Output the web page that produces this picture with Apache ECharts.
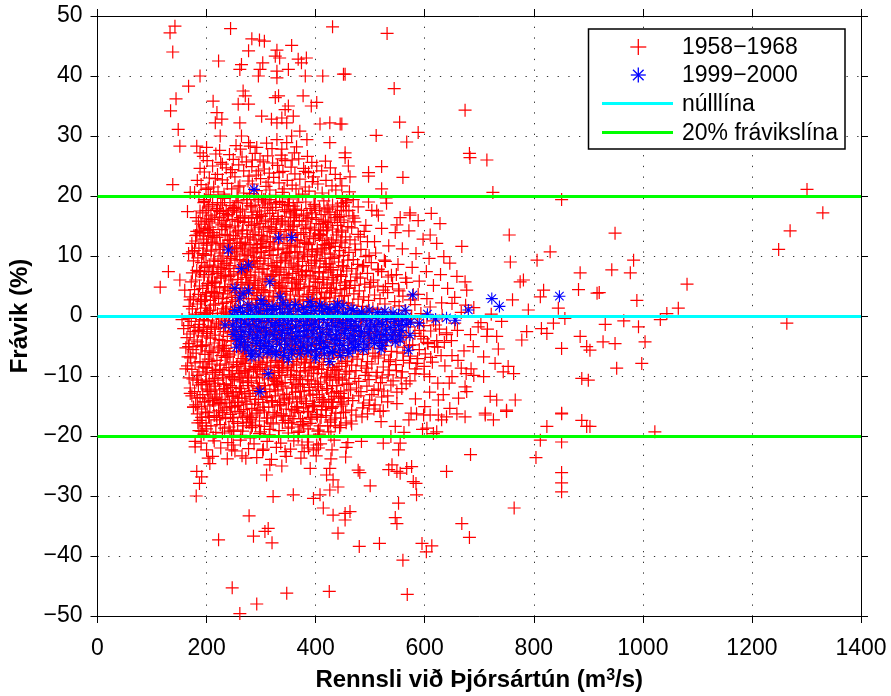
<!DOCTYPE html>
<html><head><meta charset="utf-8">
<script src="https://cdn.jsdelivr.net/npm/echarts@6/dist/echarts.min.js"></script>
<style>html,body{margin:0;padding:0;background:#fff}#c{width:891px;height:696px}</style>
</head><body><div id="c"></div>
<script>
// ---- axes ----
const xRange = [0, 1400];
const yRange = [-50, 50];
const xStep = 200;
const yStep = 10;
const zeroLevel = [0];
const devLevels = [20, -20];

// ---- 1958-1968 (red +) ----
const redTop = [[142,48.3],[133,47.2],[138,44],[244,47.9],[431,48.2],[283,46.2],[297,46],[306,45.8],[277,44.2],[222,42.5],[356,45.1],[329,44.3],[326,43.3],[334,43],[264,41.9],[261,41.1],[303,42.2],[298,41.1],[368,42.8],[383,43],[374,42.2],[350,41.1],[329,40.8],[295,40],[329,39.7],[381,40],[413,40],[451,40.3],[188,40],[167,38.3],[144,36.2],[134,34.2],[148,31.1],[151,28.3],[267,37.5],[271,36.7],[258,35.3],[277,35.3],[212,35.8],[326,36.4],[332,36.7],[350,35],[344,34.4],[377,36.7],[402,35.6],[392,35],[301,33.3],[219,33.9],[228,32.8],[216,32.2],[261,32.2],[319,32.8],[329,32.2],[338,33],[347,32.2],[359,33.3],[408,32],[426,32.2],[445,32],[371,30.8],[356,30],[225,30],[264,30],[277,28.9],[182,28.3],[200,28.1],[188,27.2],[280,28.3],[292,28.1],[329,29.4],[347,28.9],[338,27.8],[384,29.4],[426,28.9],[454,27.2],
[531,47.1],[454,40.3],[544,37.9],[674,34.3],[448,32],[554,32.3],[511,30.1],[588,30.6],[567,29],[682,27.1],[683,26.4],[714,26],[454,26.4],[460,25],[521,24.9],[497,23.9],[497,23.3],[463,23.2],[560,23.1],[448,21.7],[521,21.2],[529,19.7],[725,20.6],[851,19.4],[497,19],[512,17.5],[573,17.2],[457,19.2],[451,18.3],[469,19.4],[138,21.9],[170,20.6]];

const redUpperBand = [[186,19.9],[207,20.2],[233,19.6],[256,20],[279,20.4],[301,19.7],[327,20.1],[352,19.5],[376,20.3],[399,19.8],[424,20],[449,19.6],
[178,20.6],[199,21.1],[221,20.7],[246,21.2],[268,20.5],[292,20.9],[316,21],[339,20.6],[364,21.2],[388,20.8],[412,20.5],[437,21],[462,20.7],
[190,21.9],[213,21.5],[238,22.1],[261,21.7],[284,22],[309,21.6],[333,22.2],[357,21.8],[381,21.5],[404,22],[430,21.7],
[183,22.6],[205,23],[229,22.7],[252,23.2],[276,22.5],[299,22.9],[323,23.1],[348,22.6],[371,22.8],[396,23.2],[419,22.6],[445,22.9],
[196,24],[220,23.6],[244,23.9],[268,24.2],[291,23.5],[315,23.8],[340,24.1],[362,23.7],[387,23.9],[411,24.2],[436,23.6],
[188,24.6],[211,25],[236,24.7],[259,25.2],[283,24.9],[306,24.5],[330,25.1],[355,24.8],[378,24.6],[402,25],[427,24.7],
[201,25.9],[226,25.6],[249,26.1],[273,25.7],[298,26],[321,25.5],[344,25.9],[369,26.2],[393,25.6],[418,25.8],
[194,26.6],[217,27],[242,26.9],[265,26.5],[289,27.1],[312,26.7],[337,26.8],[361,27.2],[385,26.6],
[232,20.3],[258,21.5],[287,20.1],[313,22.3],[342,21.2],[369,20],[394,22.4],[216,22.9],[247,24.4],[278,23.3],[304,25.7],[333,23.9],[357,26],[381,24.1],[224,27.6],[254,28.4],[284,26],[310,28.8],[338,26.2],[365,28.2],[203,21.3],[229,25.3],[262,27.8],[295,24.2],[320,27.9]];

const redCorePos = [[196,19.1],[211,18.6],[229,18.9],[243,18.4],[258,19.2],[274,18.8],[289,18.5],[303,19],[318,18.7],[334,19.1],[349,18.4],[366,18.9],[382,19],[397,18.6],[415,19.2],[431,18.5],[447,18.8],
[188,17.5],[204,18.3],[220,17.9],[236,17.6],[251,18.1],[266,17.8],[282,18.2],[297,17.5],[312,18],[327,18.1],[343,17.7],[359,18.3],[374,17.6],[390,17.9],[407,18],[423,17.8],[440,18.2],[456,17.5],
[193,17.2],[208,16.8],[224,17.4],[240,16.9],[255,17.3],[270,16.7],[285,17.3],[300,16.8],[316,17.1],[331,16.6],[346,17.4],[362,17],[378,16.7],[393,17.2],[410,16.9],[426,17.3],[444,16.6],
[185,15.8],[200,16.2],[215,16.5],[232,15.9],[247,16.1],[262,16.4],[277,15.7],[293,16.3],[308,16],[323,16.2],[339,15.8],[354,16.5],[370,15.9],[386,16.3],[401,16.1],[418,15.7],[435,16.4],[452,16],[470,16.3],
[190,15.3],[206,14.8],[221,15.5],[236,15.2],[252,15],[267,15.6],[282,15.1],[298,15.4],[313,14.9],[328,15.3],[344,15.5],[360,15],[375,15.2],[391,14.8],[406,15.4],[423,15.6],[440,15.1],[459,14.9],
[182,14.1],[197,14.6],[212,13.9],[228,14.4],[243,14.7],[258,14.2],[274,14.3],[289,14],[304,14.5],[319,14.7],[335,14.1],[351,14.4],[366,13.9],[382,14.6],[398,14.3],[414,14.2],[431,14.5],[448,14],[466,14.7],[489,14.1],
[188,13.8],[203,13.3],[219,13.1],[234,13.6],[249,13.4],[265,13.7],[280,13],[296,13.5],[311,13.2],[326,13.8],[342,13.1],[357,13.4],[373,13.6],[389,13.3],[405,13.7],[421,13],[438,13.5],[455,13.2],[478,13.6],
[180,12.5],[195,12.8],[210,12.3],[225,12.1],[241,12.6],[256,12.9],[271,12.2],[287,12.7],[302,12.5],[317,12.4],[333,12.8],[348,12.1],[364,12.7],[380,12.3],[396,12.9],[412,12.6],[429,12.2],[446,12.5],[463,12.7],[495,12.4],
[186,11.3],[201,11.8],[217,12],[232,11.5],[247,11.2],[263,11.7],[278,11.9],[293,11.4],[309,11.6],[324,12],[340,11.3],[355,11.7],[371,11.5],[387,11.9],[403,11.2],[419,11.8],[436,11.6],[454,11.4],[472,12],
[178,10.9],[193,10.4],[208,10.8],[223,11.1],[239,10.5],[254,10.7],[269,10.3],[285,11],[300,10.6],[315,10.9],[331,11.1],[346,10.4],[362,10.7],[378,10.5],[394,10.8],[410,11],[427,10.3],[444,10.9],[461,10.6],[483,11.1],[510,10.5],
[184,9.7],[199,10.2],[215,9.5],[230,10],[245,9.9],[261,9.4],[276,10.1],[291,9.8],[307,9.6],[322,10.2],[338,9.7],[353,10],[369,9.5],[385,9.9],[401,10.2],[417,9.6],[434,9.8],[451,10.1],[469,9.4],[492,9.9],
[176,9.2],[191,8.9],[206,8.5],[221,9.1],[237,8.8],[252,9.3],[267,8.6],[283,9],[298,9.2],[313,8.7],[329,8.9],[344,9.3],[360,8.5],[376,9.1],[392,8.8],[408,9.2],[425,8.7],[442,9],[459,9.3],[477,8.6],[502,8.9],[528,9.1],
[182,7.6],[197,8.1],[213,8.3],[228,7.8],[243,8.4],[259,8],[274,7.7],[289,8.2],[305,7.9],[320,8.4],[336,7.8],[351,8.1],[367,8.3],[383,7.6],[399,8],[415,8.2],[432,7.7],[449,8.4],[466,7.9],[486,8.2],[515,7.8],
[174,7.2],[189,7.5],[204,6.9],[219,7.1],[235,6.7],[250,7.4],[265,7.2],[281,6.8],[296,7.3],[311,7],[327,7.5],[342,6.9],[358,7.1],[374,7.4],[390,6.7],[406,7.2],[423,7.3],[440,6.8],[457,7.5],[474,7],[495,7.1],[521,7.4],[548,6.9],
[180,6],[195,6.5],[211,5.8],[226,6.3],[241,6.6],[257,6.1],[272,6.4],[287,5.9],[303,6.2],[318,6.6],[334,6],[349,6.3],[365,5.8],[381,6.5],[397,6.2],[413,6.1],[430,6.4],[447,6.6],[464,5.9],[482,6.3],[506,6],[533,6.5],
[172,5.7],[187,5],[202,5.4],[217,5.5],[233,4.9],[248,5.3],[263,5.6],[279,5.2],[294,5.1],[309,5.7],[325,5.4],[340,5],[356,5.5],[372,5.3],[388,4.9],[404,5.6],[421,5.2],[438,5.5],[455,5.7],[472,5.1],[490,5.3],[514,5],[541,5.4],[567,5.6],
[178,4.4],[193,4.6],[209,4.1],[224,4.8],[239,4.3],[255,4.7],[270,4],[285,4.5],[301,4.4],[316,4.2],[332,4.8],[347,4.1],[363,4.5],[379,4.7],[395,4.3],[411,4],[428,4.6],[445,4.4],[462,4.7],[480,4.2],[499,4.8],[524,4.3],[552,4.5],
[170,3.2],[185,3.6],[200,3.9],[215,3.3],[231,3.7],[246,3.1],[261,3.5],[277,3.8],[292,3.4],[307,3.9],[323,3.2],[338,3.7],[354,3.5],[370,3.3],[386,3.6],[402,3.9],[419,3.1],[436,3.8],[453,3.4],[470,3.7],[488,3.2],[508,3.5],[532,3.9],[560,3.3],[588,3.6],
[176,2.8],[191,2.4],[207,2.6],[222,3],[237,2.3],[253,2.7],[268,2.9],[283,2.2],[299,2.8],[314,2.5],[330,3],[345,2.6],[361,2.3],[377,2.7],[393,2.4],[409,2.9],[426,3],[443,2.5],[460,2.2],[478,2.8],[497,2.6],[518,2.9],[545,2.4],[574,2.7],
[168,1.6],[183,2],[198,1.3],[213,1.8],[229,2.1],[244,1.5],[259,1.7],[275,1.4],[290,1.9],[305,2.1],[321,1.6],[336,1.8],[352,1.3],[368,2],[384,1.7],[400,1.5],[417,1.9],[434,1.4],[451,2.1],[468,1.8],[486,1.6],[505,1.3],[527,2],[553,1.7],[582,1.9],[610,1.5],
[174,1.2],[189,0.6],[205,0.9],[220,0.4],[235,0.8],[251,1.1],[266,0.7],[281,1],[297,0.5],[312,0.9],[328,1.2],[343,0.6],[359,0.8],[375,1.1],[391,0.4],[407,0.9],[424,0.7],[441,1],[458,1.2],[476,0.5],[494,0.8],[514,1.1],[538,0.6],[565,0.9],[593,0.4]];

const redCoreNeg = [[168,-0.4],[181,0.1],[196,0.3],[211,-0.2],[227,-0.5],[242,0.2],[257,-0.1],[273,0],[288,-0.3],[303,0.3],[319,-0.4],[334,0.1],[350,-0.2],[366,0.2],[382,-0.5],[398,-0.1],[415,0.1],[432,-0.4],[449,0],[466,0.3],[484,-0.3],[503,-0.1],[523,0.2],[548,-0.5],[576,0],[604,-0.2],[632,0.1],
[172,-0.9],[187,-1.4],[203,-0.7],[218,-1],[233,-0.8],[249,-1.2],[264,-0.6],[279,-1.3],[295,-0.9],[310,-1.1],[326,-0.7],[341,-1.4],[357,-0.8],[373,-1],[389,-1.2],[405,-0.6],[422,-1.1],[439,-0.7],[456,-1.3],[474,-0.9],[492,-0.8],[511,-1.4],[532,-1],[558,-0.7],[587,-1.1],[616,-0.8],
[166,-1.6],[179,-1.9],[194,-2.2],[209,-1.7],[225,-2],[240,-1.5],[255,-2.3],[271,-1.8],[286,-1.6],[301,-2.1],[317,-1.9],[332,-1.7],[348,-2.3],[364,-1.5],[380,-2],[396,-1.8],[413,-2.2],[430,-1.6],[447,-1.9],[464,-2.1],[482,-1.5],[501,-2],[521,-1.7],[544,-2.3],[570,-1.8],[598,-1.6],[627,-2.2],
[170,-3],[185,-2.4],[201,-2.9],[216,-3.2],[231,-2.6],[247,-2.8],[262,-2.5],[277,-3.1],[293,-2.7],[308,-2.4],[324,-3],[339,-2.8],[355,-3.2],[371,-2.6],[387,-2.5],[403,-2.9],[420,-2.7],[437,-3.1],[454,-2.4],[472,-3],[490,-2.8],[509,-2.6],[530,-3.2],[555,-2.7],[582,-2.9],[611,-2.5],[640,-3.1],
[164,-3.6],[177,-4],[192,-3.3],[207,-3.7],[223,-3.9],[238,-3.4],[253,-4.1],[269,-3.5],[284,-3.8],[299,-3.6],[315,-3.3],[330,-4],[346,-3.7],[362,-3.9],[378,-3.4],[394,-3.6],[411,-4.1],[428,-3.5],[445,-3.7],[462,-3.8],[480,-3.3],[499,-4],[519,-3.5],[541,-3.9],[566,-3.6],[593,-3.4],[622,-4.1],
[168,-4.6],[183,-4.3],[199,-4.8],[214,-4.5],[229,-5],[245,-4.2],[260,-4.7],[275,-4.4],[291,-4.9],[306,-4.6],[322,-4.3],[337,-4.7],[353,-4.2],[369,-5],[385,-4.5],[401,-4.8],[418,-4.4],[435,-4.6],[452,-4.9],[470,-4.2],[488,-4.7],[507,-4.5],[528,-5],[551,-4.3],[578,-4.8],[606,-4.6],[636,-4.4],
[162,-5.3],[175,-5.6],[190,-5.1],[205,-5.8],[221,-5.5],[236,-5.4],[251,-5.9],[267,-5.2],[282,-5.7],[297,-5.1],[313,-5.5],[328,-5.8],[344,-5.3],[360,-5.6],[376,-5.2],[392,-5.9],[409,-5.4],[426,-5.1],[443,-5.7],[460,-5.5],[478,-5.8],[497,-5.3],[517,-5.4],[539,-5.9],[563,-5.2],[590,-5.6],[618,-5.1],
[166,-6.8],[181,-6.2],[197,-6.4],[212,-6.1],[227,-6.6],[243,-6.5],[258,-6],[273,-6.7],[289,-6.3],[304,-6.8],[320,-6.2],[335,-6.1],[351,-6.5],[367,-6.4],[383,-6.7],[399,-6],[416,-6.6],[433,-6.3],[450,-6.1],[468,-6.8],[486,-6.4],[505,-6.2],[526,-6.5],[549,-6],[574,-6.7],[601,-6.3],[630,-6.6],
[171,-7],[188,-7.6],[203,-7.2],[219,-7.4],[234,-6.9],[249,-7.7],[265,-7.1],[280,-7.3],[295,-7.5],[311,-7],[326,-7.4],[342,-6.9],[358,-7.6],[374,-7.2],[390,-7.3],[407,-7.7],[424,-7.1],[441,-6.9],[458,-7.5],[476,-7.2],[495,-7.6],[515,-7],[537,-7.3],[561,-7.4],[587,-7.1],[614,-7.7],
[165,-8.3],[179,-7.8],[195,-8.5],[210,-8],[225,-8.2],[241,-8.6],[256,-8.1],[271,-7.9],[287,-8.4],[302,-7.8],[318,-8.3],[333,-8.2],[349,-8.5],[365,-8],[381,-7.8],[397,-8.4],[414,-8.1],[431,-8.6],[448,-7.9],[466,-8.2],[484,-8.3],[503,-8],[524,-8.5],[547,-8.1],[572,-7.8],[599,-8.4],
[173,-8.9],[186,-9.3],[201,-8.7],[217,-9.4],[232,-9],[247,-9.1],[263,-9.5],[278,-8.8],[293,-9.2],[309,-8.9],[324,-9.4],[340,-8.7],[356,-9.1],[372,-9.3],[388,-9],[405,-8.8],[422,-9.5],[439,-8.9],[456,-9.2],[474,-9.1],[493,-8.7],[513,-9.4],[535,-9],[559,-9.3],[584,-8.8],
[168,-10.3],[183,-9.9],[199,-9.7],[214,-10.4],[229,-9.8],[245,-10.1],[260,-9.6],[275,-10],[291,-10.2],[306,-9.7],[322,-10.4],[338,-9.9],[354,-9.8],[370,-10.3],[386,-10],[403,-9.6],[420,-10.1],[437,-10.2],[454,-9.7],[472,-10.4],[491,-9.9],[511,-10],[533,-9.8],[557,-10.3],[582,-9.6],[609,-10.1],
[175,-10.5],[190,-11.1],[205,-10.9],[221,-10.7],[236,-11.3],[251,-10.6],[267,-11],[282,-10.8],[297,-11.2],[313,-10.5],[328,-10.9],[344,-11.1],[360,-10.6],[376,-11.3],[392,-10.8],[409,-11],[426,-10.7],[443,-10.5],[461,-11.2],[479,-10.9],[498,-10.6],[519,-11.1],[542,-10.8],[566,-11.3],
[170,-12],[185,-11.5],[201,-12.2],[216,-11.7],[231,-11.4],[247,-11.9],[262,-12.1],[277,-11.6],[293,-11.8],[308,-12.2],[324,-11.5],[340,-11.7],[356,-12],[372,-11.4],[388,-11.9],[405,-11.8],[422,-12.1],[439,-11.6],[457,-11.4],[475,-12],[494,-11.7],[515,-12.2],[538,-11.5],
[178,-12.6],[193,-13.1],[208,-12.5],[224,-12.3],[239,-12.9],[254,-12.7],[270,-13],[285,-12.4],[300,-12.8],[316,-12.6],[331,-12.3],[347,-13.1],[363,-12.7],[379,-12.5],[395,-13],[412,-12.4],[429,-12.8],[446,-12.9],[464,-12.3],[483,-12.6],[503,-13.1],[525,-12.5],[549,-12.7],
[173,-13.3],[188,-13.6],[203,-13.8],[219,-13.5],[234,-14],[249,-13.2],[265,-13.7],[280,-13.4],[295,-13.9],[311,-13.6],[326,-13.3],[342,-14],[358,-13.5],[374,-13.8],[390,-13.2],[407,-13.6],[424,-13.9],[442,-13.4],[460,-13.7],[479,-13.3],[499,-14],[521,-13.5],
[180,-14.8],[196,-14.3],[211,-14.1],[226,-14.6],[242,-14.5],[257,-14.9],[272,-14.2],[288,-14.7],[303,-14.4],[319,-14.1],[334,-14.8],[350,-14.5],[366,-14.3],[382,-14.6],[398,-14.9],[415,-14.2],[432,-14.4],[450,-14.7],[468,-14.1],[488,-14.5],[509,-14.8],[532,-14.3],
[176,-15.2],[191,-15.5],[206,-15],[222,-15.8],[237,-15.3],[252,-15.1],[268,-15.6],[283,-15.4],[298,-15.7],[314,-15.2],[330,-15],[346,-15.5],[362,-15.8],[378,-15.3],[394,-15.1],[411,-15.6],[429,-15.4],[447,-15],[466,-15.7],[486,-15.3],[507,-15.5],
[183,-16.3],[198,-16],[214,-16.6],[229,-16.1],[244,-16.4],[260,-15.9],[275,-16.7],[291,-16.2],[306,-16],[322,-16.5],[337,-16.3],[353,-16.7],[369,-16.1],[385,-15.9],[402,-16.4],[419,-16.6],[437,-16.2],[455,-16],[474,-16.5],[495,-16.3],[518,-15.9],
[188,-17.4],[204,-16.8],[219,-17.3],[235,-17.1],[250,-17.6],[266,-16.9],[281,-17.2],[297,-17.5],[312,-17],[328,-16.8],[344,-17.4],[360,-17.1],[376,-17.6],[393,-17.2],[410,-16.9],[428,-17.3],[446,-17],[465,-17.5],[485,-16.8],
[192,-17.8],[208,-18.3],[225,-18.1],[241,-18.5],[257,-17.9],[273,-17.7],[290,-18.2],[306,-18.4],[322,-18],[339,-17.8],[356,-18.5],[373,-18.1],[390,-17.9],[408,-18.3],[427,-17.7],[446,-18.2],[466,-18],
[186,-19.1],[200,-18.8],[217,-19.4],[233,-18.7],[249,-19],[266,-19.2],[282,-18.6],[299,-19.3],[316,-18.9],[333,-19.1],[350,-18.7],[368,-19.4],[386,-18.8],[405,-19],[424,-19.3],[444,-18.6],
[195,-19.7],[212,-20.2],[229,-19.5],[246,-20],[263,-19.9],[280,-20.3],[297,-19.6],[315,-19.8],[332,-20.1],[350,-19.5],[368,-20.2],[387,-19.9],[407,-19.7],[428,-20]];

const redCoreFill = [[203,18],[226,18.5],[249,17.9],[281,18.4],[307,18.1],[339,18.6],[362,17.8],[398,18.3],[421,18],
[199,17.6],[231,17.1],[262,17.5],[293,16.9],[321,17.6],[353,17.2],[384,17],[417,17.5],[437,16.9],
[210,16.1],[238,16.7],[270,16.3],[301,16.6],[331,16.2],[365,16.8],[393,16.4],[428,16],
[197,15.7],[228,15.2],[259,15.8],[288,15.3],[319,15.7],[350,15.2],[382,15.8],[414,15.3],[446,15.6],
[206,14.4],[235,14.9],[266,14.3],[296,14.8],[327,14.4],[358,14.9],[390,14.5],[422,14.8],
[194,13.9],[224,13.5],[253,14],[285,13.6],[316,14.1],[346,13.5],[378,13.9],[409,13.6],[441,14],
[214,13.1],[243,12.7],[275,13.2],[305,12.8],[336,13.1],[367,12.6],[399,13],[432,12.7],
[200,12.2],[230,11.8],[261,12.3],[291,11.9],[322,12.3],[353,11.8],[384,12.2],[416,11.9],[448,12.2],
[209,11],[239,11.5],[270,11],[300,11.4],[331,11],[362,11.5],[393,11.1],[425,11.4],
[195,10.1],[225,10.5],[256,10],[287,10.5],[318,10.1],[349,10.6],[380,10.2],[412,10.5],[443,10],
[213,9.2],[244,9.6],[274,9.1],[305,9.6],[336,9.2],[367,9.7],[398,9.3],[430,9.6],
[201,8.3],[232,8.7],[263,8.2],[293,8.7],[324,8.3],[355,8.8],[387,8.4],[419,8.7],[451,8.2],
[210,7.4],[241,7.9],[271,7.4],[302,7.8],[333,7.3],[364,7.8],[395,7.4],[427,7.7],
[196,6.9],[227,6.5],[258,7],[289,6.5],[320,6.9],[351,6.4],[382,6.8],[414,6.5],[446,6.9],
[215,5.6],[245,6],[276,5.5],[307,6],[338,5.6],[369,6.1],[400,5.7],[432,6],
[203,5.1],[234,4.7],[265,5.2],[296,4.7],[327,5.1],[358,4.6],[389,5],[421,4.7],[453,5.1],
[212,3.8],[243,4.2],[273,3.7],[304,4.2],[335,3.8],[366,4.3],[397,3.9],[429,4.2],
[198,3.3],[229,2.9],[260,3.4],[291,2.9],[322,3.3],[353,2.8],[384,3.2],[416,2.9],[448,3.3],
[216,2],[247,2.4],[278,1.9],[309,2.4],[340,2],[371,2.5],[402,2.1],[434,2.4],
[180,0.3],[194,-0.6],[207,1],[222,-1.3],[236,0.5],[185,-2.6],[200,-3.5],[215,-2.2],[230,-4.1],[192,-5],[208,-6],[223,-5.2],[238,-6.8],
[455,-0.6],[470,-1.8],[487,0.6],[500,-2.9],[515,-0.3],[530,-4.1],[546,-1.2],[560,-3.3],[575,-0.5],[590,-2.4],[605,-4.4],[620,-1.5],
[205,-7.6],[236,-8],[267,-7.5],[298,-8.1],[329,-7.7],[360,-8.2],[391,-7.8],[423,-8.1],[455,-7.6],
[193,-8.5],[224,-8.9],[255,-8.4],[286,-8.9],[317,-8.5],[348,-9],[379,-8.6],[411,-8.9],[443,-8.4],
[211,-9.4],[242,-9.8],[272,-9.3],[303,-9.8],[334,-9.4],[365,-9.9],[396,-9.5],[428,-9.8],[462,-9.3],
[199,-10.7],[230,-10.3],[261,-10.8],[292,-10.3],[323,-10.7],[354,-10.2],[385,-10.6],[417,-10.3],[449,-10.7],
[214,-11.2],[244,-11.6],[275,-11.1],[306,-11.6],[337,-11.2],[368,-11.7],[399,-11.3],[431,-11.6],
[202,-12.5],[233,-12.1],[264,-12.6],[295,-12.1],[326,-12.5],[357,-12],[388,-12.4],[420,-12.1],[452,-12.5],
[217,-13],[247,-13.4],[278,-12.9],[309,-13.4],[340,-13],[371,-13.5],[402,-13.1],[434,-13.4],
[197,-14.3],[228,-13.9],[259,-14.4],[290,-13.9],[321,-14.3],[352,-13.8],[383,-14.2],[415,-13.9],[447,-14.3],
[213,-14.8],[243,-15.2],[274,-14.7],[305,-15.2],[336,-14.8],[367,-15.3],[398,-14.9],[430,-15.2],
[201,-16.1],[232,-15.7],[263,-16.2],[294,-15.7],[325,-16.1],[356,-15.6],[387,-16],[419,-15.7],[451,-16.1],
[218,-16.6],[248,-17],[279,-16.5],[310,-17],[341,-16.6],[372,-17.1],[403,-16.7],[435,-17]];

const redScatterFill = [[187,14.3],[341,-7.7],[262,3.9],[419,-15.1],[228,9.2],[305,-2.6],[447,17.6],[199,-11.4],[376,6.8],[284,-18.3],[243,12.1],[398,-4.9],[322,1.2],[215,-13.7],[361,15.8],[270,-9.1],[433,5.5],[191,-16.9],[352,10.7],[296,-0.8],[254,18.9],[411,-6.3],[329,8.1],[206,-12.6],[387,2.7],[278,-17.8],[238,13.4],[452,-3.7],[315,11.3],[223,-14.4],[369,7.4],[290,-8.6],[181,16.4],[404,-19.2],[334,4.6],[248,-10.3],[426,0.5],[267,-5.8],[196,19.4],[357,-1.9],
[192,-11.4],[346,6.8],[267,-18.3],[424,12.1],[233,-4.9],[310,1.2],[452,-13.7],[204,15.8],[381,-9.1],[289,5.5],[248,-16.9],[403,10.7],[327,-0.8],[220,18.9],[366,-6.3],[275,8.1],[438,-12.6],[196,2.7],[357,-17.8],[301,13.4],[259,-3.7],[416,11.3],[334,-14.4],[211,7.4],[392,-8.6],[283,16.4],[243,-19.2],[457,4.6],[320,-10.3],[228,0.5],[374,-5.8],[295,19.4],[186,-1.9],[409,14.3],[339,-7.7],[253,3.9],[431,-15.1],[272,9.2],[201,-2.6],[362,17.6],
[183,-13.7],[337,15.8],[258,-9.1],[415,5.5],[224,-16.9],[301,10.7],[443,-0.8],[195,18.9],[372,-6.3],[280,8.1],[239,-12.6],[394,2.7],[318,-17.8],[211,13.4],[357,-3.7],[266,11.3],[429,-14.4],[187,7.4],[348,-8.6],[292,16.4],[250,-19.2],[407,4.6],[325,-10.3],[202,0.5],[383,-5.8],[274,19.4],[234,-1.9],[448,14.3],[311,-7.7],[219,3.9],[365,-15.1],[286,9.2],[177,-2.6],[400,17.6],[330,-11.4],[244,6.8],[422,-18.3],[263,12.1],[192,-4.9],[353,1.2],
[196,-0.8],[350,18.9],[271,-6.3],[428,8.1],[237,-12.6],[314,2.7],[456,-17.8],[208,13.4],[385,-3.7],[293,11.3],[252,-14.4],[407,7.4],[331,-8.6],[224,16.4],[370,-19.2],[279,4.6],[442,-10.3],[200,0.5],[361,-5.8],[305,19.4],[263,-1.9],[420,14.3],[338,-7.7],[215,3.9],[396,-15.1],[287,9.2],[247,-2.6],[461,17.6],[324,-11.4],[232,6.8],[378,-18.3],[299,12.1],[190,-4.9],[413,1.2],[343,-13.7],[257,15.8],[435,-9.1],[276,5.5],[205,-16.9],[366,10.7],
[180,13.4],[334,-3.7],[255,11.3],[412,-14.4],[221,7.4],[298,-8.6],[440,16.4],[192,-19.2],[369,4.6],[277,-10.3],[236,0.5],[391,-5.8],[315,19.4],[208,-1.9],[354,14.3],[263,-7.7],[426,3.9],[184,-15.1],[345,9.2],[289,-2.6],[247,17.6],[404,-11.4],[322,6.8],[199,-18.3],[380,12.1],[271,-4.9],[231,1.2],[445,-13.7],[308,15.8],[216,-9.1],[362,5.5],[283,-16.9],[174,10.7],[397,-0.8],[327,18.9],[241,-6.3],[419,8.1],[260,-12.6],[189,2.7],[350,-17.8],
[190,-19.2],[344,4.6],[265,-10.3],[422,0.5],[231,-5.8],[308,19.4],[450,-1.9],[202,14.3],[379,-7.7],[287,3.9],[246,-15.1],[401,9.2],[325,-2.6],[218,17.6],[364,-11.4],[273,6.8],[436,-18.3],[194,12.1],[355,-4.9],[299,1.2],[257,-13.7],[414,15.8],[332,-9.1],[209,5.5],[390,-16.9],[281,10.7],[241,-0.8],[455,18.9],[318,-6.3],[226,8.1],[372,-12.6],[293,2.7],[184,-17.8],[407,13.4],[337,-3.7],[251,11.3],[429,-14.4],[270,7.4],[199,-8.6],[360,16.4]];

const redLowerBand = [[190,-21.2],[214,-20.8],[239,-21.1],[262,-20.7],[287,-21.3],[311,-20.9],[336,-21.2],[360,-20.8],[385,-21],[409,-21.3],[434,-20.7],[459,-21.1],[484,-20.9],
[200,-22.3],[226,-22],[252,-22.5],[277,-22.1],[303,-22.4],[328,-21.9],[354,-22.2],[379,-22.6],[405,-22],[430,-22.3],[456,-21.9],
[211,-23.4],[238,-23.8],[265,-23.3],[292,-23.6],[319,-23.9],[346,-23.4],[373,-23.7],[401,-23.3],[428,-23.8],[455,-23.5]];

const redBottom = [[181,-30],[187,-27.9],[191,-26.8],[182,-25.9],[179,-21.8],[179,-20.9],[203,-23.7],[206,-24.6],[246,-22.3],[249,-21.5],[272,-23.7],[304,-22.2],[316,-24.8],[338,-25],[310,-26.5],[344,-22.6],[375,-21.5],[387,-22],[396,-22.3],[402,-21.5],[390,-25.4],[426,-25.4],[420,-26.5],[432,-27.3],[359,-29.8],[322,-30.1],[396,-30.4],[408,-29.8],[426,-29],[441,-28.5],[414,-32],[432,-33.2],[454,-32.9],[454,-34],[441,-36.2],[278,-33.3],[222,-37.3],[286,-36.7],[307,-35.9],[320,-37.8],[313,-35.4],[247,-45.3],[292,-48],[261,-49.6],[347,-46.2],[425,-45.9],
[750,-15.9],[851,-16.3],[888,-17.4],[897,-18.4],[824,-18.4],[812,-20.7],[851,-21],[804,-23.6],[851,-26.1],[851,-27.8],[851,-29.3],[684,-23.1],[640,-25.9],[764,-32],[668,-34.6],[682,-36.9],[613,-38.3],[603,-39.3],[595,-37.9],[560,-40.7],[568,-46.4],[517,-37.9],[480,-38.4],[552,-31.2],[546,-33.6],[549,-34.6],[500,-28.3],[584,-27.9],[585,-29.8],[478,-25.7],[481,-26.1],[549,-25.9],[555,-26.2],[567,-25.4],[540,-24.8],[534,-25.6],[576,-25.1],[579,-27.6],[463,-32.6],[640,-16.8],[631,-17.3],[625,-16.5],[622,-19.3],[616,-19.6],[711,-16.5],[726,-17.3],[674,-16.8],[659,-16.3],[585,-16.3],[598,-16.5],[610,-16.5],[604,-18.7],[524,-21.2],[555,-21.2],[552,-22.3]];

const redRight = [[478,18.2],[503,17.6],[530,18.8],[555,16.4],[588,15.9],[612,17.1],[468,16.7],[492,15.1],[521,14.6],[546,13.9],[571,14.2],[597,12.8],[622,12.1],[482,13.2],[508,12.4],[534,11.7],[559,11.2],[584,10.4],[608,9.6],[635,9.9],[473,11],[498,10.1],[526,9.3],[551,8.6],[577,8.1],[603,7.4],[629,6.9],[488,8.4],[514,7.7],[539,6.8],[565,6.3],[590,5.8],[616,5.1],[642,4.6],[476,6.5],[501,5.6],[528,4.9],[553,4.2],[579,3.6],[604,2.9],[631,2.2],[655,3.1],
[497,-3.5],[521,-4.4],[546,-3.1],[572,-4.9],[598,-3.8],[624,-5.2],[649,-4.1],[672,-5.8],[509,-6.7],[534,-7.6],[560,-6.2],[586,-7.9],[611,-6.9],[637,-8.3],[661,-7.4],[685,-8.8],[496,-9.4],[522,-10.3],[548,-9.1],[573,-10.8],[599,-9.7],[624,-11.2],[650,-10.1],[676,-9.6],[507,-12.4],[532,-13.3],[558,-12.1],[583,-13.8],[609,-12.7],[634,-13.1],[498,-14.9],[524,-15.8],[549,-14.6],[575,-16.2],[600,-15.1],[520,-17.6],[546,-18.4],[571,-17.3],[596,-18.9],[538,-20.1],[562,-19.4],
[650,2.1],[667,0.6],[690,1.4],[703,-1.1],[722,0.3],[741,-0.9],[660,-2.4],[684,-3.1],[698,-1.8],[655,-1.2],[640,-2.8],[675,1.8],[715,-2.2],[735,-5.5],[650,-6.6],[667,-8.7],[690,-9.9],[645,-11.2],
[755,13.5],[830,10.7],[806,9.3],[757,9],[885,7.2],[775,5.7],[781,6],[882,4.4],[818,4.3],[812,3.2],[761,2.7],[916,3.8],[845,1.3],[790,1],[857,-0.4],[836,-1.2],[814,-2.1],[824,-2.9],[778,-4],[787,-2.6],[885,-3.4],[897,-5.1],[903,-5.7],[851,-5.4],[888,-10.4],[900,-10.7],[851,-16.2],[668,11.6],[646,8.8],[659,6.6],[674,5.7],[677,4.3],[628,15.4],[610,13.5],[573,16.8],[549,15.2],[515,16.8],[472,15.7],[753,-8.4],[729,-7.9],[708,-6.8],[689,-5.1],[714,-3.4],[732,-3.4],[708,-10.1],[744,-9.3],[763,-9.6],[766,-14],[720,-13.4],[732,-14],[674,-11.8],[677,-12.6],[662,-13.7],[625,-14],[646,-15.4],[711,-16.2],[750,-15.7],
[1301,21.1],[1330,17.2],[1270,14.2],[1249,11.1],[1264,-1.2],[949,13.8],[983,9.3],[943,7.7],[977,7.2],[1081,5.3],[920,3.9],[989,2.6],[1065,1.3],[1044,0.4],[1032,-0.6],[965,-0.8],[931,-1.4],[992,-1.8],[927,-4.3],[949,-4.6],[1004,-4.3],[952,-8.7],[998,-7.9],[1022,-19.3],[903,-18.4]];

const redLeft = [[165,17.4],[182,13.5],[173,12.1],[167,10.4],[130,7.4],[151,6],[115,4.8],[160,4.3],[170,2.7],[167,-5.1],[170,-6.8],[170,-12.9],[182,-10.7],[158,-2.1],[162,-8.8],[176,-15.2],[155,-0.6]];

// ---- 1999-2000 (blue *) ----
const blueBand = [[262,1.4],[276,1.8],[291,1.5],[305,1.9],[320,1.6],[334,1.3],[349,1.7],[363,1.9],[378,1.4],[392,1.6],[407,1.8],[421,1.3],[436,1.5],[450,1.7],[465,1.2],
[252,0.9],[266,0.6],[281,1],[295,0.7],[310,0.9],[324,1.1],[339,0.5],[353,0.8],[368,1],[382,0.6],[397,0.9],[411,0.7],[426,1.1],[440,0.8],[455,0.5],[469,0.9],[484,0.7],[498,1],[513,0.6],[527,0.8],[542,0.5],
[248,0.1],[262,-0.2],[277,0.2],[291,-0.1],[306,0],[320,0.3],[335,-0.2],[349,0.1],[364,-0.3],[378,0.2],[393,0],[407,-0.2],[422,0.3],[436,-0.1],[451,0.1],[465,-0.3],[480,0.2],[494,0],[509,-0.2],[523,0.1],[538,-0.1],[552,0.2],[567,-0.2],
[255,-0.7],[269,-1],[284,-0.6],[298,-0.9],[313,-0.7],[327,-1.1],[342,-0.8],[356,-0.5],[371,-0.9],[385,-0.7],[400,-1],[414,-0.6],[429,-0.8],[443,-1.1],[458,-0.7],[472,-0.9],[487,-0.5],[501,-0.8],[516,-1],[530,-0.6],[545,-0.9],[559,-0.7],[574,-1],
[248,-1.5],[262,-1.8],[276,-1.4],[291,-1.7],[305,-1.9],[320,-1.5],[334,-1.6],[349,-1.3],[363,-1.8],[378,-1.6],[392,-1.4],[407,-1.9],[421,-1.5],[436,-1.7],[450,-1.3],[465,-1.6],[479,-1.8],[494,-1.5],[508,-1.7],[523,-1.4],[537,-1.9],[552,-1.6],[566,-1.4],
[252,-2.3],[267,-2.6],[281,-2.2],[296,-2.5],[310,-2.7],[325,-2.3],[339,-2.4],[354,-2.1],[368,-2.6],[383,-2.4],[397,-2.2],[412,-2.7],[426,-2.3],[441,-2.5],[455,-2.1],[470,-2.4],[484,-2.6],[499,-2.2],[513,-2.5],[528,-2.3],[542,-2.7],[557,-2.4],
[250,-3.1],[264,-3.4],[279,-3],[293,-3.3],[308,-3.5],[322,-3.1],[337,-3.2],[351,-2.9],[366,-3.4],[380,-3.2],[395,-3],[409,-3.5],[424,-3.1],[438,-3.3],[453,-2.9],[467,-3.2],[482,-3.4],[496,-3],[511,-3.3],[525,-3.1],[540,-3.5],[554,-3.2],
[256,-3.9],[270,-4.2],[285,-3.8],[299,-4.1],[314,-4.3],[328,-3.9],[343,-4],[357,-3.7],[372,-4.2],[386,-4],[401,-3.8],[415,-4.3],[430,-3.9],[444,-4.1],[459,-3.7],[473,-4],[488,-4.2],[502,-3.8],[517,-4.1],[531,-3.9],[546,-4.3],
[262,-4.7],[276,-5],[291,-4.6],[305,-4.9],[320,-5.1],[334,-4.7],[349,-4.8],[363,-4.5],[378,-5],[392,-4.8],[407,-4.6],[421,-5.1],[436,-4.7],[450,-4.9],[465,-4.5],[479,-4.8],[494,-5],[508,-4.6],[523,-4.9],
[270,-5.5],[285,-5.8],[299,-5.4],[314,-5.7],[328,-5.9],[343,-5.5],[357,-5.6],[372,-5.3],[386,-5.8],[401,-5.6],[415,-5.4],[430,-5.9],[444,-5.5],[459,-5.7],[473,-5.3],[488,-5.6],
[281,-6.2],[296,-6.5],[311,-6.1],[326,-6.4],[341,-6.6],[356,-6.2],[371,-6.3],[386,-6],[401,-6.5],[416,-6.3],[431,-6.1],[446,-6.6],[461,-6.2]];

const blueOut = [[287,21.1],[240,11],[264,7.9],[277,8.5],[332,13],[356,13.1],[316,5.7],[252,4.6],[267,3.8],[277,4.2],[261,3],[335,3.2],[411,1.55],[234,-1.5],[283,-6.8],[313,-9.6],[298,-12.6],[426,-7.6],[578,3.5],[564,1],[723,2.9],[737,1.6],[680,1],[656,-0.7],[847,3.3],[555,-4],[570,-5.7],[590,-1.2],[605,0.3],[620,-0.5],[640,-0.3],[573,-3.2],[300,2.6],[340,2.2],[255,-5.2],[390,2.4],[470,-5.2],[520,-5.5],[400,-7],[350,-7.2],[440,2]];

const redData = [].concat(redTop, redUpperBand, redCorePos, redCoreNeg, redCoreFill, redScatterFill, redLowerBand, redBottom, redRight, redLeft);
const blueData = [].concat(blueBand, blueOut);

const FONT = "'Liberation Sans', Arial, Helvetica, sans-serif";
const PLUS = 'path://M-0.6,-6.5H0.6V-0.6H6.5V0.6H0.6V6.5H-0.6V0.6H-6.5V-0.6H-0.6Z';
const STAR = 'path://M-0.55,-6L0.55,-6L0.55,6L-0.55,6ZM-6,-0.55L6,-0.55L6,0.55L-6,0.55ZM-3.85,-4.6L4.6,3.85L3.85,4.6L-4.6,-3.85ZM4.6,-3.85L-3.85,4.6L-4.6,3.85L3.85,-4.6Z';
const minus = v => String(v).replace('-', '\u2212');

const chart = echarts.init(document.getElementById('c'), null, {renderer: 'canvas'});
const gridLine = {show: true, lineStyle: {color: '#333', width: 1, type: [1.3, 9.4]}};
const axLine = {show: true, onZero: false, lineStyle: {color: '#000', width: 1}};
const tick = {show: true, inside: false, length: 7, lineStyle: {color: '#000', width: 1}};
const lbl = {color: '#000', fontSize: 23, fontFamily: FONT};

function seg(x1, y1, x2, y2, color) {
  return {type: 'line', shape: {x1: x1, y1: y1, x2: x2, y2: y2}, style: {stroke: color, lineWidth: 1.3}, z: 101};
}
const lgX = 638.3, lgR1 = 47, lgR2 = 75;

chart.setOption({
  animation: false,
  backgroundColor: '#fff',
  grid: {left: 97.5, right: 30, top: 16, bottom: 80, containLabel: false, outerBoundsMode: 'none'},
  xAxis: [{
    type: 'value', min: xRange[0], max: xRange[1], interval: xStep, position: 'bottom',
    axisLine: axLine, axisTick: tick, splitLine: gridLine,
    axisLabel: Object.assign({margin: 21, formatter: minus}, lbl),
    name: '{a|Rennsli við Þjórsártún (m}{s|3}{a|/s)}', nameLocation: 'middle', nameGap: 52,
    nameTextStyle: {rich: {
      a: {fontSize: 24, fontWeight: 'bold', fontFamily: FONT, color: '#000'},
      s: {fontSize: 16, fontWeight: 'bold', fontFamily: FONT, color: '#000', verticalAlign: 'top'}
    }}
  }, {
    type: 'value', min: xRange[0], max: xRange[1], interval: xStep, position: 'top',
    axisLine: axLine, axisTick: tick, splitLine: {show: false}, axisLabel: {show: false}
  }],
  yAxis: [{
    type: 'value', min: yRange[0], max: yRange[1], interval: yStep, position: 'left',
    axisLine: axLine, axisTick: tick, splitLine: gridLine,
    axisLabel: Object.assign({margin: 15, formatter: minus}, lbl),
    name: 'Frávik (%)', nameLocation: 'middle', nameGap: 58, nameRotate: 90,
    nameTextStyle: {fontSize: 24, fontWeight: 'bold', fontFamily: FONT, color: '#000'}
  }, {
    type: 'value', min: yRange[0], max: yRange[1], interval: yStep, position: 'right',
    axisLine: axLine, axisTick: tick, splitLine: {show: false}, axisLabel: {show: false}
  }],
  series: [{
    name: '1958−1968', type: 'scatter', data: redData, symbol: PLUS, symbolSize: 13,
    itemStyle: {color: '#ff0000', opacity: 1}, z: 2, silent: true
  }, {
    name: '1999−2000', type: 'scatter', data: blueData, symbol: STAR, symbolSize: 12,
    itemStyle: {color: '#0000ff', opacity: 1}, z: 3, silent: true
  }, {
    name: 'núlllína', type: 'line', data: [], z: 5, silent: true,
    markLine: {symbol: 'none', silent: true, label: {show: false},
      lineStyle: {color: '#00ffff', width: 3, type: 'solid'},
      data: zeroLevel.map(v => ({yAxis: v}))}
  }, {
    name: '20% frávikslína', type: 'line', data: [], z: 5, silent: true,
    markLine: {symbol: 'none', silent: true, label: {show: false},
      lineStyle: {color: '#00ff00', width: 3, type: 'solid'},
      data: devLevels.map(v => ({yAxis: v}))}
  }],
  graphic: [
    {type: 'rect', shape: {x: 588.5, y: 29, width: 256.5, height: 120}, style: {fill: '#fff', stroke: '#000', lineWidth: 1.5}, z: 100},
    seg(lgX - 8, lgR1, lgX + 8, lgR1, '#ff0000'),
    seg(lgX, lgR1 - 8, lgX, lgR1 + 8, '#ff0000'),
    seg(lgX - 7.5, lgR2, lgX + 7.5, lgR2, '#0000ff'),
    seg(lgX, lgR2 - 7.5, lgX, lgR2 + 7.5, '#0000ff'),
    seg(lgX - 5.3, lgR2 - 5.3, lgX + 5.3, lgR2 + 5.3, '#0000ff'),
    seg(lgX - 5.3, lgR2 + 5.3, lgX + 5.3, lgR2 - 5.3, '#0000ff'),
    {type: 'line', shape: {x1: 602, y1: 103.5, x2: 673, y2: 103.5}, style: {stroke: '#00ffff', lineWidth: 3}, z: 101},
    {type: 'line', shape: {x1: 602, y1: 132.5, x2: 673, y2: 132.5}, style: {stroke: '#00ff00', lineWidth: 3}, z: 101},
    {type: 'text', x: 682, y: 48, style: {text: '1958−1968', font: '23px ' + FONT, fill: '#000', verticalAlign: 'middle'}, z: 101},
    {type: 'text', x: 682, y: 76, style: {text: '1999−2000', font: '23px ' + FONT, fill: '#000', verticalAlign: 'middle'}, z: 101},
    {type: 'text', x: 682, y: 104.5, style: {text: 'núlllína', font: '23px ' + FONT, fill: '#000', verticalAlign: 'middle'}, z: 101},
    {type: 'text', x: 682, y: 133.5, style: {text: '20% frávikslína', font: '23px ' + FONT, fill: '#000', verticalAlign: 'middle'}, z: 101}
  ]
});
</script></body></html>
